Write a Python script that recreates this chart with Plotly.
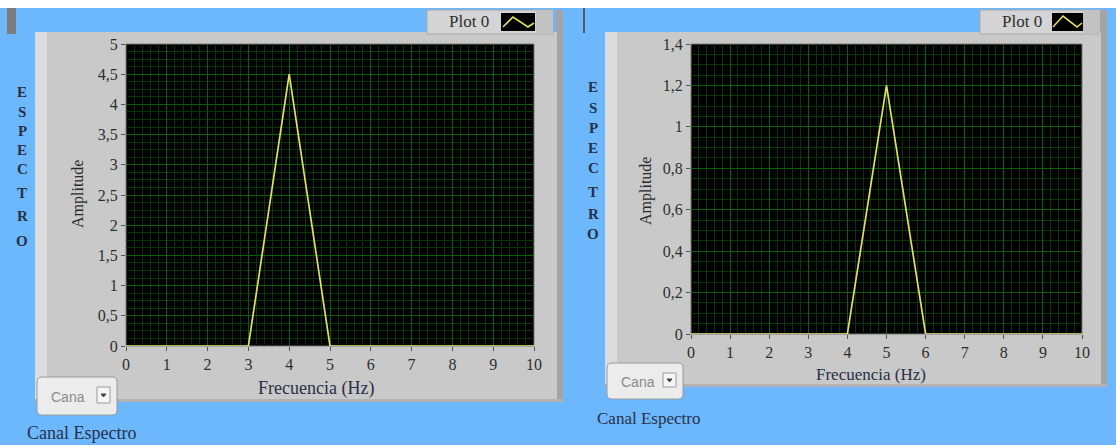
import plotly.graph_objects as go

# ---- data -------------------------------------------------------------
frecuencia = [0, 1, 2, 3, 4, 5, 6, 7, 8, 9, 10]
amplitud_canal_a = [0, 0, 0, 0, 4.5, 0, 0, 0, 0, 0, 0]
amplitud_canal_b = [0, 0, 0, 0, 0, 1.2, 0, 0, 0, 0, 0]

x_tickvals = [0, 1, 2, 3, 4, 5, 6, 7, 8, 9, 10]
x_ticktext = ["0", "1", "2", "3", "4", "5", "6", "7", "8", "9", "10"]
ya_tickvals = [0, 0.5, 1, 1.5, 2, 2.5, 3, 3.5, 4, 4.5, 5]
ya_ticktext = ["0", "0,5", "1", "1,5", "2", "2,5", "3", "3,5", "4", "4,5", "5"]
yb_tickvals = [0, 0.2, 0.4, 0.6, 0.8, 1.0, 1.2, 1.4]
yb_ticktext = ["0", "0,2", "0,4", "0,6", "0,8", "1", "1,2", "1,4"]

# ---- page geometry helpers (pixel -> paper) ---------------------------
W, H = 1116, 445


def fx(x):
    return x / W


def fy(y):
    return 1 - y / H


BLUE = "#6db8fd"
FRAME = "#c9c9c9"
FRAME_LIGHT = "#dcdcdc"
SHADOW = "#a4a4a4"
TRACE = "#e2de66"
GRID_MAJOR = "#0a5f0a"
GRID_MINOR = "#063506"
TEXT = "#263048"
SERIF = "Liberation Serif, Times New Roman, serif"
SANS = "Liberation Sans, Arial, sans-serif"

shapes = []
annotations = []


def rect(x0, y0, x1, y1, fill, line=None, width=1, layer="below"):
    shapes.append(dict(type="rect", xref="paper", yref="paper",
                       x0=fx(x0), x1=fx(x1), y0=fy(y1), y1=fy(y0),
                       fillcolor=fill, layer=layer,
                       line=dict(color=line or fill, width=width if line else 0)))


def poly(points, color, width=2, layer="above", fill=None):
    d = "M " + " L ".join(f"{fx(px)},{fy(py)}" for px, py in points)
    if fill:
        d += " Z"
    shapes.append(dict(type="path", xref="paper", yref="paper", path=d,
                       line=dict(color=color, width=width), layer=layer,
                       fillcolor=fill if fill else "rgba(0,0,0,0)"))


def rounded(x0, y0, x1, y1, r, fill, line):
    pts = (f"M {fx(x0 + r)},{fy(y0)} L {fx(x1 - r)},{fy(y0)} "
           f"Q {fx(x1)},{fy(y0)} {fx(x1)},{fy(y0 + r)} "
           f"L {fx(x1)},{fy(y1 - r)} Q {fx(x1)},{fy(y1)} {fx(x1 - r)},{fy(y1)} "
           f"L {fx(x0 + r)},{fy(y1)} Q {fx(x0)},{fy(y1)} {fx(x0)},{fy(y1 - r)} "
           f"L {fx(x0)},{fy(y0 + r)} Q {fx(x0)},{fy(y0)} {fx(x0 + r)},{fy(y0)} Z")
    shapes.append(dict(type="path", xref="paper", yref="paper", path=pts,
                       fillcolor=fill, line=dict(color=line, width=1), layer="above"))


def text(x, y, s, size=15, color=TEXT, angle=0, xanchor="center", bold=False,
         family=SERIF):
    annotations.append(dict(xref="paper", yref="paper", x=fx(x), y=fy(y),
                            text=f"<b>{s}</b>" if bold else s,
                            showarrow=False, textangle=angle, xanchor=xanchor,
                            yanchor="middle",
                            font=dict(family=family, size=size, color=color)))


# top strip of the window
rect(0, 0, W, 8, "#ffffff")
rect(7, 8, 16, 34, "#7c7c7c")
rect(583, 8, 585, 33, "#5a5a5a")


def graph_panel(fl, ft, fr, fb, pl, pt, pr, pb, leg_x0, leg_x1, icon, zig,
                drop, label_y, label_size, esp_x, esp_ys, amp_x, amp_y,
                frec_x, frec_y, frec_size):
    # panel body with bevel
    rect(fr - 1, 10, fr + 6, fb, SHADOW)
    rect(fl, ft, fr, fb, FRAME)
    rect(fl, ft, fl + 12, fb, FRAME_LIGHT)
    rect(fl, fb - 3, fr + 6, fb, "#b2b2b2")
    # plotting area
    rect(pl, pt, pr, pb, "#000000", line="#7a7a7a")
    # legend chip
    rect(leg_x0, 10, leg_x1, 34, "#d4d4d4", line="#a8a8a8", layer="above")
    rect(leg_x1 - 17, 10, leg_x1, 34, "#c2c2c2", layer="above")
    rect(icon[0], 13, icon[1], 31, "#000000", layer="above")
    poly(zig, TRACE, width=1.6)
    text(leg_x0 + 42, 22, "Plot 0", size=17, color="#2e2e2e")
    # channel selector
    dx0, dy0, dx1, dy1 = drop
    rounded(dx0, dy0, dx1, dy1, 5, "#ececec", "#9a9a9a")
    rect(dx1 - 20, dy0 + 10, dx1 - 7, dy1 - 12, "#f6f6f6", line="#9a9a9a", layer="above")
    cx, cy = dx1 - 13.5, (dy0 + dy1) / 2 - 1
    poly([(cx - 2.5, cy - 1), (cx + 2.5, cy - 1), (cx, cy + 2)], "#444444", width=1, fill="#444444")
    text(dx0 + 12, (dy0 + dy1) / 2 + 1, "Cana", size=14, color="#8a8a8a",
         xanchor="left", family=SANS)
    text(dx0 - 12, label_y, "Canal Espectro", size=label_size, xanchor="left")
    # side caption
    for letter, yy in zip("ESPECTRO", esp_ys):
        text(esp_x, yy, letter, size=15, bold=True)
    text(amp_x, amp_y, "Amplitude", size=16, angle=-90, color="#2a2a2a")
    text(frec_x, frec_y, "Frecuencia (Hz)", size=frec_size)


graph_panel(35, 32, 557, 402, 126, 44, 534, 346, 427, 553, (501, 535),
            [(503, 27), (513, 17), (528, 27), (534, 23)],
            (37, 377, 117, 415), 433, 18, 22,
            [92, 112, 131, 150, 169, 193, 216, 241], 78, 194, 316, 388, 18)

graph_panel(605, 32, 1101, 387, 691, 44, 1082, 334, 980, 1100, (1052, 1083),
            [(1053, 27), (1063, 16), (1077, 27), (1082, 23)],
            (607, 363, 683, 399), 418, 17, 593,
            [87, 108, 128, 148, 168, 192, 214, 234], 646, 191, 871, 374, 17)

fig = go.Figure()
fig.add_trace(go.Scatter(x=frecuencia, y=amplitud_canal_a, mode="lines",
                         line=dict(color=TRACE, width=1.7), xaxis="x", yaxis="y",
                         showlegend=False, hoverinfo="skip"))
fig.add_trace(go.Scatter(x=frecuencia, y=amplitud_canal_b, mode="lines",
                         line=dict(color=TRACE, width=1.7), xaxis="x2", yaxis="y2",
                         showlegend=False, hoverinfo="skip"))

tick_font = dict(family=SERIF, size=16, color="#2e2e2e")
common = dict(showline=False, zeroline=False, ticks="outside", ticklen=4,
              tickwidth=1, tickcolor="#555555", tickfont=tick_font,
              automargin=False,
              gridcolor=GRID_MAJOR, gridwidth=1, showgrid=True, fixedrange=True)

fig.update_layout(
    width=W, height=H, autosize=False,
    margin=dict(l=0, r=0, t=0, b=0, pad=0, autoexpand=False),
    paper_bgcolor=BLUE, plot_bgcolor="rgba(0,0,0,0)",
    showlegend=False,
    xaxis=dict(domain=[fx(126), fx(534)], range=[0, 10], anchor="y",
               tickmode="array", tickvals=x_tickvals, ticktext=x_ticktext,
               minor=dict(dtick=0.2, tick0=0, showgrid=True, gridcolor=GRID_MINOR),
               **common),
    yaxis=dict(domain=[fy(346), fy(44)], range=[0, 5], anchor="x",
               tickmode="array", tickvals=ya_tickvals, ticktext=ya_ticktext,
               minor=dict(dtick=0.125, tick0=0, showgrid=True, gridcolor=GRID_MINOR),
               **common),
    xaxis2=dict(domain=[fx(691), fx(1082)], range=[0, 10], anchor="y2",
                tickmode="array", tickvals=x_tickvals, ticktext=x_ticktext,
                minor=dict(dtick=0.2, tick0=0, showgrid=True, gridcolor=GRID_MINOR),
                **common),
    yaxis2=dict(domain=[fy(334), fy(44)], range=[0, 1.4], anchor="x2",
                tickmode="array", tickvals=yb_tickvals, ticktext=yb_ticktext,
                minor=dict(dtick=0.05, tick0=0, showgrid=True, gridcolor=GRID_MINOR),
                **common),
    shapes=shapes,
    annotations=annotations,
)

fig.write_html("out.html")
